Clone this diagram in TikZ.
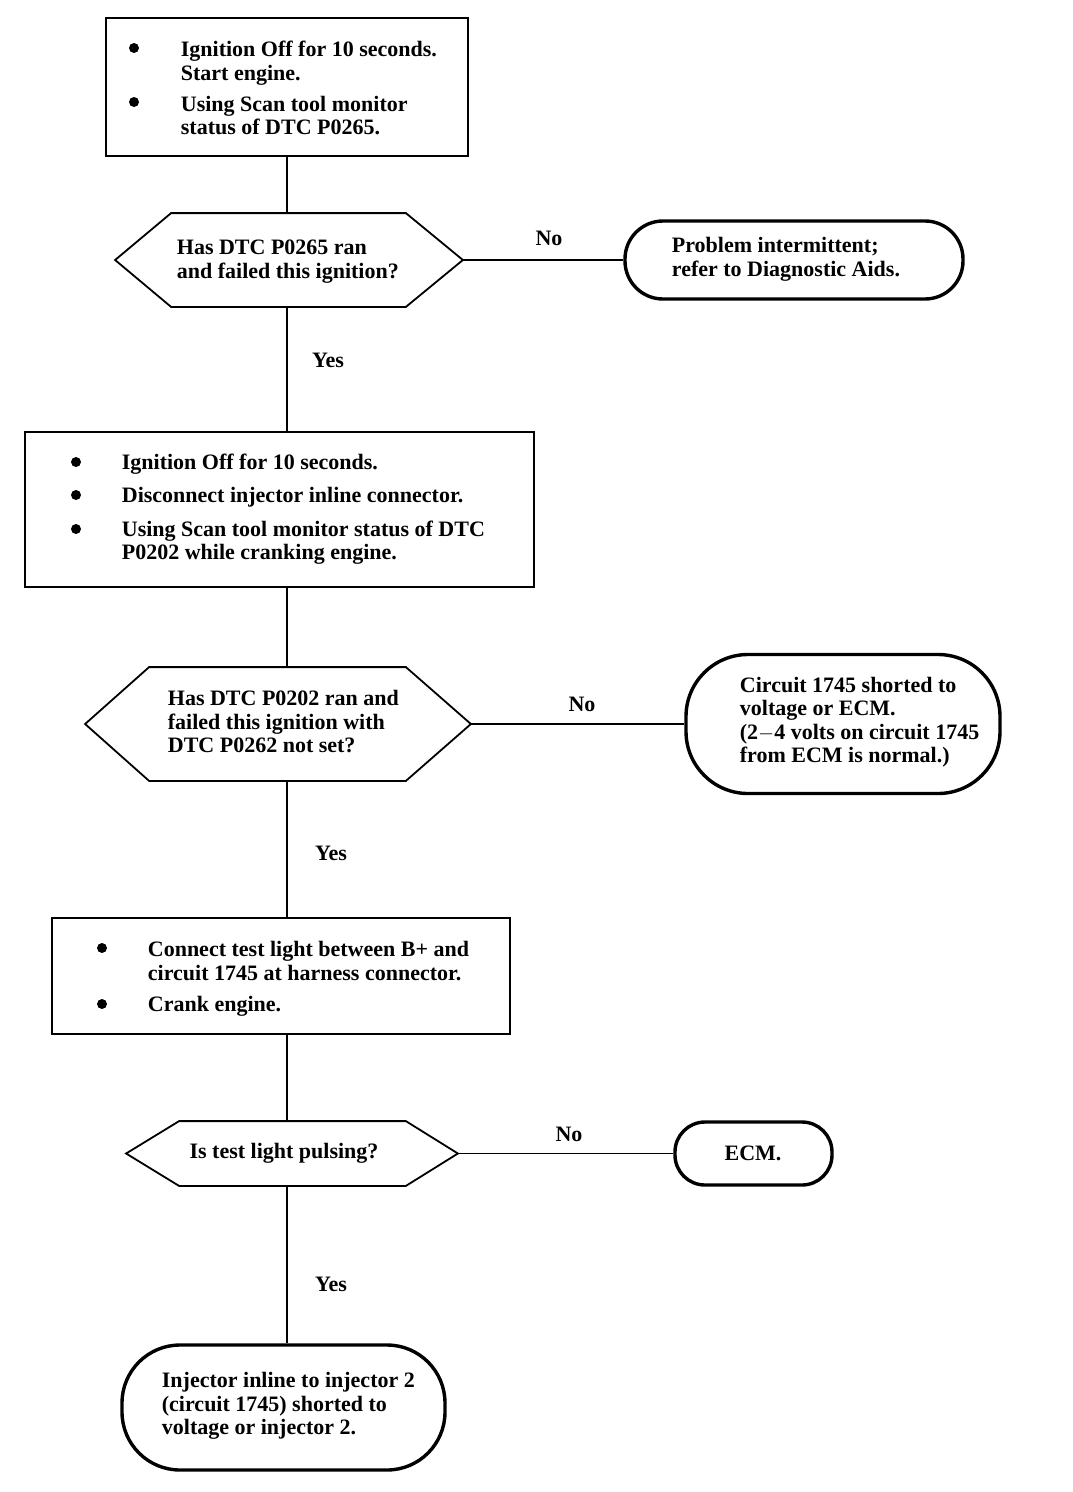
\documentclass[tikz,border=0pt]{standalone}
\usepackage{fontspec}
\setmainfont{Liberation Serif}
\begin{document}
\fontsize{22}{23.5}\selectfont\bfseries
\begin{tikzpicture}[x=1pt,y=-1pt,line width=1.8pt,
  stepbox/.style={draw,inner sep=0pt},
  term/.style={draw,line width=3.4pt,inner sep=0pt},
  hexa/.style={inner sep=0pt},
  txt/.style={anchor=west,inner sep=0pt,align=left},
  lbl/.style={inner sep=0pt}]
\useasboundingbox (0,0) rectangle (1072,1492);
\coordinate (spine) at (287,0);
\node[stepbox,minimum width=362,minimum height=138] (b1) at (287,87) {};
\node[hexa,minimum width=346,minimum height=92] (d1) at (289,260) {};
\node[term,rounded corners=38,minimum width=338,minimum height=78] (t1) at (794,260) {};
\node[stepbox,minimum width=509,minimum height=155] (b2) at (279.5,509.5) {};
\node[hexa,minimum width=384,minimum height=112] (d2) at (278,724) {};
\node[term,rounded corners=62,minimum width=314,minimum height=139] (t2) at (843,724) {};
\node[stepbox,minimum width=458,minimum height=116] (b3) at (281,976) {};
\node[hexa,minimum width=330,minimum height=63] (d3) at (292,1153.5) {};
\node[term,rounded corners=30,minimum width=157,minimum height=63] (t3) at (753.5,1153.5) {};
\node[term,rounded corners=58,minimum width=323,minimum height=125] (t4) at (283.5,1407.5) {};
\draw (d1.west) -- ([xshift=56]d1.north west) -- ([xshift=-57]d1.north east) -- (d1.east)
  -- ([xshift=-57]d1.south east) -- ([xshift=56]d1.south west) -- cycle;
\draw (d2.west) -- ([xshift=64]d2.north west) -- ([xshift=-65]d2.north east) -- (d2.east)
  -- ([xshift=-65]d2.south east) -- ([xshift=64]d2.south west) -- cycle;
\draw (d3.west) -- ([xshift=53]d3.north west) -- ([xshift=-52]d3.north east) -- (d3.east)
  -- ([xshift=-52]d3.south east) -- ([xshift=53]d3.south west) -- cycle;
\node[txt] (b1a) at (180,63) {Ignition Off for 10 seconds.\\Start engine.};
\node[txt] (b1b) at (180,115.5) {Using Scan tool monitor\\status of DTC P0265.};
\node[txt] (q1) at (176,261.5) {Has DTC P0265 ran\\and failed this ignition?};
\node[txt] (r1) at (671,259.5) {Problem intermittent;\\refer to Diagnostic Aids.};
\node[txt] (b2a) at (121,464) {Ignition Off for 10 seconds.};
\node[txt] (b2b) at (121,497) {Disconnect injector inline connector.};
\node[txt] (b2c) at (121,542.5) {Using Scan tool monitor status of DTC\\P0202 while cranking engine.};
\node[txt] (q2) at (167,722) {Has DTC P0202 ran and\\failed this ignition with\\DTC P0262 not set?};
\node[txt] (r2) at (739,722) {Circuit 1745 shorted to\\voltage or ECM.\\(2$-$4 volts on circuit 1745\\from ECM is normal.)};
\node[txt] (b3a) at (147,961) {Connect test light between B+ and\\circuit 1745 at harness connector.};
\node[txt] (b3b) at (147,1006) {Crank engine.};
\node[lbl] (q3) at (284,1153) {Is test light pulsing?};
\node[lbl] (r3) at (753,1153) {ECM.};
\node[txt] (r4) at (161,1406) {Injector inline to injector 2\\(circuit 1745) shorted to\\voltage or injector 2.};
\foreach \x/\y in {134/48,134/102,76/462,76/495,76/529,102/948,102/1004}
  \fill (\x,\y) circle (5);
\node[lbl] (no1) at (549,238) {No};
\node[lbl] (no2) at (582,704) {No};
\node[lbl] (no3) at (569,1134) {No};
\node[lbl] (yes1) at (328,360) {Yes};
\node[lbl] (yes2) at (331,853) {Yes};
\node[lbl] (yes3) at (331,1284) {Yes};
\draw (spine |- b1.south) -- (spine |- d1.north);
\draw (spine |- d1.south) -- (spine |- b2.north);
\draw (spine |- b2.south) -- (spine |- d2.north);
\draw (spine |- d2.south) -- (spine |- b3.north);
\draw (spine |- b3.south) -- (spine |- d3.north);
\draw (spine |- d3.south) -- (spine |- t4.north);
\draw (d1.east) -- (t1.west);
\draw (d2.east) -- (t2.west);
\draw (d3.east) -- (t3.west);
\end{tikzpicture}
\end{document}
